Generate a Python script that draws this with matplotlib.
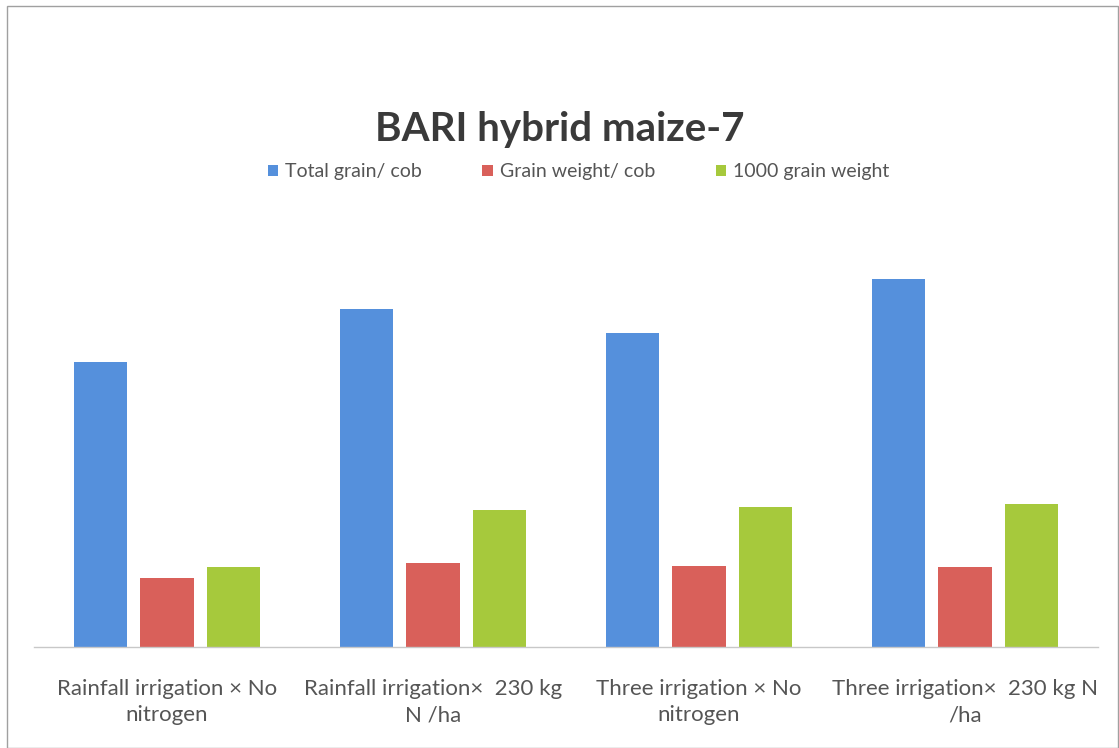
import matplotlib
matplotlib.use("Agg")
import matplotlib.pyplot as plt
import numpy as np
from matplotlib.patches import Rectangle

categories = ["Rainfall irrigation × No\nnitrogen",
              "Rainfall irrigation×  230 kg\nN /ha",
              "Three irrigation × No\nnitrogen",
              "Three irrigation×  230 kg N\n/ha"]
series_names = ["Total grain/ cob", "Grain weight/ cob", "1000 grain weight"]
total_grain = [285, 338, 314, 368]
grain_weight = [69, 84, 81, 80]
thousand_grain = [80, 137, 140, 143]
colors = ["#5590dc", "#d9605a", "#a6c93c"]

plt.rcParams['font.family'] = ['Lato', 'DejaVu Sans']

fig = plt.figure(figsize=(11.19, 7.48), dpi=100)
fig.patches.append(Rectangle((7/1119, 0), 1 - 7/1119 - 0.001, 1 - 6/748, transform=fig.transFigure,
                             fill=False, edgecolor="#a0a0a0", linewidth=1.0))

ax = fig.add_axes([34/1119, 1 - 647/748, (1098 - 34)/1119, 400/748])
x = np.arange(len(categories))
w = 0.2
step = 0.25
data = [total_grain, grain_weight, thousand_grain]
for i, (vals, name, c) in enumerate(zip(data, series_names, colors)):
    ax.bar(x + (i - 1) * step, vals, width=w, color=c, label=name)

ax.set_xlim(-0.5, 3.5)
ax.set_ylim(0, 400)
ax.set_yticks([])
for s in ["top", "right", "left"]:
    ax.spines[s].set_visible(False)
ax.spines["bottom"].set_color("#c8c8c8")
ax.spines["bottom"].set_linewidth(1.0)
ax.set_xticks(x)
ax.set_xticklabels(categories, fontsize=16, color="#555555", linespacing=1.4)
ax.tick_params(axis="x", length=0, pad=23)

fig.text(0.5, 1 - 130/748, "BARI hybrid maize-7", ha="center", va="center",
         fontsize=29, fontweight="bold", color="#3a3a3a")
fig.legend(loc="center", bbox_to_anchor=(0.517, 1 - 172/748), ncol=3, frameon=False,
           fontsize=14, handlelength=0.55, handleheight=0.55, handletextpad=0.35,
           columnspacing=3.1, labelcolor="#555555")

fig.savefig("out.png", dpi=100)
